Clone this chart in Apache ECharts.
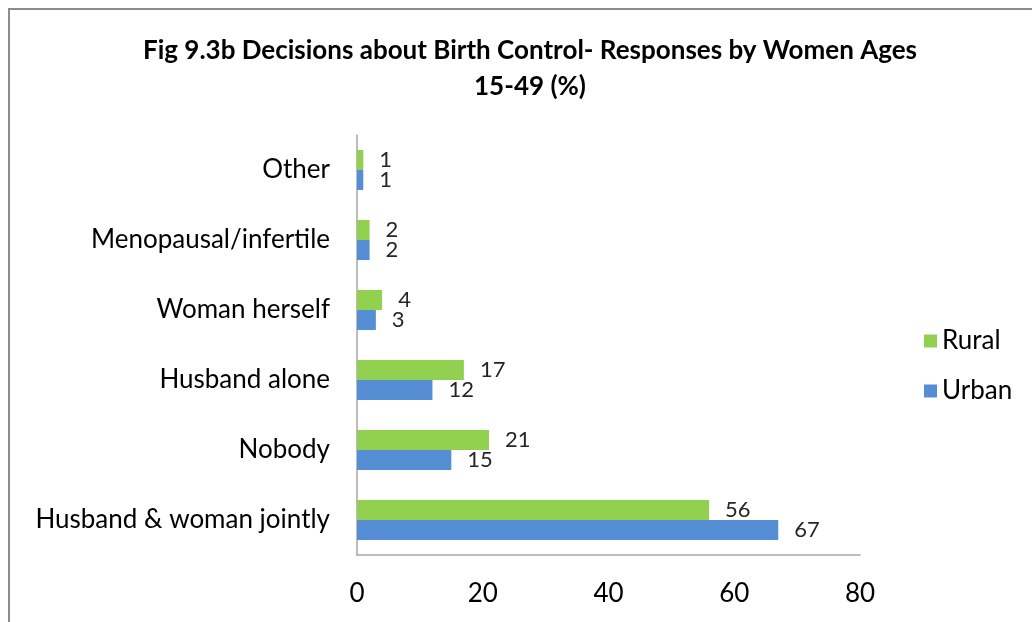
<!DOCTYPE html>
<html>
<head>
<meta charset="utf-8">
<script src="https://cdn.jsdelivr.net/npm/echarts@6/dist/echarts.min.js"></script>
<style>
  html, body { margin: 0; padding: 0; background: #ffffff; }
  #chart { width: 1032px; height: 622px; }
</style>
</head>
<body>
<div id="chart"></div>
<script>
// Categories listed bottom to top, as the value axis grows upward
const categories = [
  'Husband & woman jointly',
  'Nobody',
  'Husband alone',
  'Woman herself',
  'Menopausal/infertile',
  'Other'
];
const ruralValues = [56, 21, 17, 4, 2, 1];
const urbanValues = [67, 15, 12, 3, 2, 1];
const xTicks = [0, 20, 40, 60, 80];

const FONT = 'Lato, "Open Sans", sans-serif';
const chart = echarts.init(document.getElementById('chart'), null, { renderer: 'canvas' });

const labelStyle = {
  show: true,
  position: 'right',
  distance: 16,
  padding: [4, 0, 0, 0],
  fontFamily: FONT,
  fontSize: 22,
  color: '#262626'
};

chart.setOption({
  animation: false,
  backgroundColor: '#ffffff',
  graphic: [{
    type: 'rect',
    shape: { x: 9, y: 9, width: 1040, height: 640 },
    style: { fill: 'none', stroke: '#8c8c8c', lineWidth: 2 },
    silent: true
  }],
  title: {
    text: 'Fig 9.3b Decisions about Birth Control- Responses by Women Ages\n15-49 (%)',
    left: 525,
    top: 28,
    textAlign: 'center',
    textStyle: {
      fontFamily: FONT,
      fontWeight: 'bold',
      fontSize: 26,
      lineHeight: 36,
      color: '#000000'
    }
  },
  legend: {
    data: ['Rural', 'Urban'],
    orient: 'vertical',
    left: 919,
    top: 323,
    itemWidth: 13,
    itemHeight: 13,
    itemGap: 24,
    icon: 'rect',
    textStyle: { fontFamily: FONT, fontSize: 26, color: '#000000' }
  },
  grid: { left: 357, right: 172, top: 135, bottom: 67, containLabel: false },
  xAxis: {
    type: 'value',
    min: xTicks[0],
    max: xTicks[xTicks.length - 1],
    interval: 20,
    axisLine: { show: true, lineStyle: { color: '#a6a6a6', width: 1.5 } },
    axisTick: { show: false },
    splitLine: { show: false },
    axisLabel: {
      margin: 26,
      fontFamily: FONT,
      fontSize: 26,
      color: '#000000'
    }
  },
  yAxis: {
    type: 'category',
    data: categories,
    axisLine: { show: true, lineStyle: { color: '#a6a6a6', width: 1.5 } },
    axisTick: { show: false },
    axisLabel: {
      margin: 27,
      padding: [6, 0, 0, 0],
      fontFamily: FONT,
      fontSize: 26,
      color: '#000000'
    }
  },
  series: [
    {
      name: 'Rural',
      type: 'bar',
      data: ruralValues,
      barWidth: 20,
      barGap: '0%',
      itemStyle: { color: '#92D050' },
      label: labelStyle
    },
    {
      name: 'Urban',
      type: 'bar',
      data: urbanValues,
      barWidth: 20,
      barGap: '0%',
      itemStyle: { color: '#558ED5' },
      label: labelStyle
    }
  ]
});
</script>
</body>
</html>
